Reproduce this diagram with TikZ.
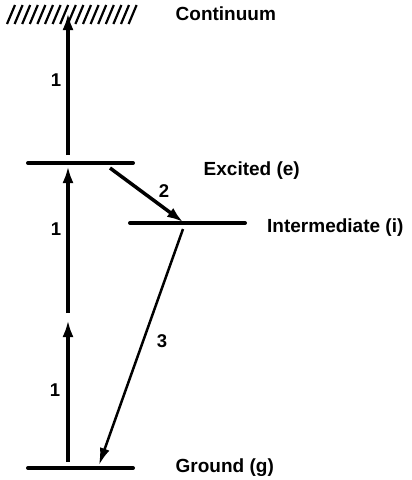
\documentclass[tikz,border=0pt]{standalone}
\usepackage{fontspec}
\setmainfont{Liberation Sans}
\usetikzlibrary{arrows.meta}
\begin{document}
\begin{tikzpicture}[x=1pt,y=-1pt,
  level/.style={line width=4pt,line cap=round},
  hatch/.style={line width=2.2pt},
  up/.style={line width=4.5pt,-{Latex[length=17pt,width=11pt]}},
  decay/.style={line width=3.5pt,-{Latex[length=16pt,width=11pt]}},
  emit/.style={line width=2.5pt,-{Latex[length=17pt,width=10pt]}},
  lbl/.style={font=\bfseries\fontsize{19}{21}\selectfont,inner sep=0pt,anchor=base west},
  num/.style={font=\bfseries\fontsize{18.5}{20}\selectfont,inner sep=0pt}]
\useasboundingbox (0,0) rectangle (412,480);
% continuum hatching
\foreach \i in {0,...,16}
  \draw[hatch] ({7+7.6*\i},24) -- ({15+7.6*\i},5);
% levels
\coordinate (eL) at (28,163); \coordinate (eR) at (133,163);
\coordinate (iL) at (130,223); \coordinate (iR) at (245,223);
\coordinate (gL) at (28,468); \coordinate (gR) at (133,468);
\draw[level] (eL) -- (eR);
\draw[level] (iL) -- (iR);
\draw[level] (gL) -- (gR);
% arrow end points
\coordinate (a1s) at (68,462); \coordinate (a1e) at (68,320);
\coordinate (a2s) at (68,313); \coordinate (a2e) at (68,166);
\coordinate (a3s) at (68,155); \coordinate (a3e) at (68,13);
\coordinate (d2s) at (110,168); \coordinate (d2e) at (183,222);
\coordinate (d3s) at (183,229); \coordinate (d3e) at (99,465);
\draw[up] (a1s) -- (a1e);
\draw[up] (a2s) -- (a2e);
\draw[up] (a3s) -- (a3e);
\draw[decay] (d2s) -- (d2e);
\draw[emit] (d3s) -- (d3e);
% numbers
\node[num] (n1a) at (56,80) {1};
\node[num] (n1b) at (56,229) {1};
\node[num] (n1c) at (55,390) {1};
\node[num] (n2) at (164,191) {2};
\node[num] (n3) at (162,341) {3};
% labels
\node[lbl] (cont) at (175.5,20) {Continuum};
\node[lbl] (exc) at (203.5,175) {Excited (e)};
\node[lbl] (int) at (267,232) {Intermediate (i)};
\node[lbl] (gnd) at (175.5,472) {Ground (g)};
\end{tikzpicture}
\end{document}
